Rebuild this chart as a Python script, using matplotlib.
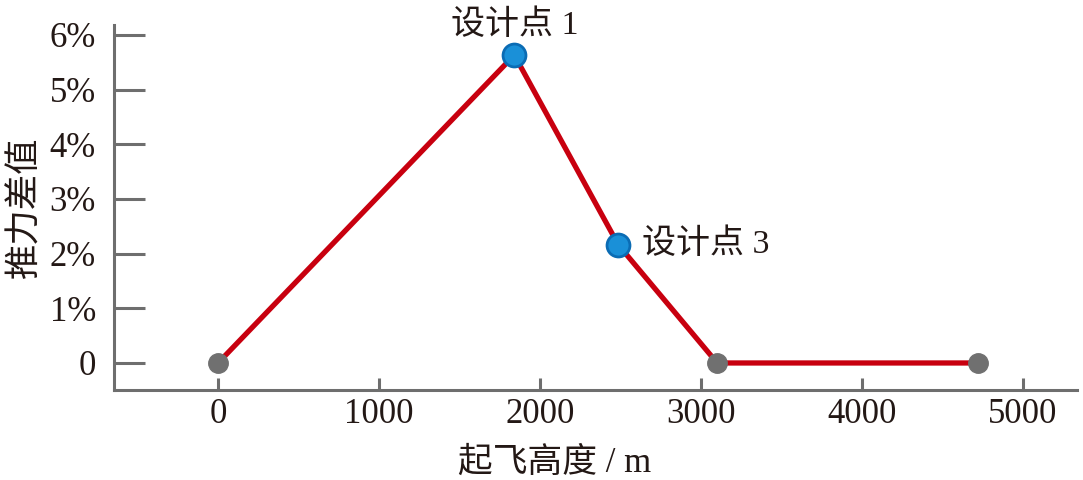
import matplotlib
matplotlib.use("Agg")
import matplotlib.pyplot as plt

plt.rcParams['font.family'] = ['Liberation Serif', 'Noto Sans CJK SC', 'DejaVu Sans']

altitude = [0, 1840, 2486, 3100, 4720]
thrust_diff = [0.0, 5.63, 2.16, 0.0, 0.0]
gray_idx = [0, 3, 4]
design_idx = [1, 2]
design_labels = ["设计点 1", "设计点 3"]
xticks = [0, 1000, 2000, 3000, 4000, 5000]
yticks = [0, 1, 2, 3, 4, 5, 6]
ytick_labels = ["0", "1%", "2%", "3%", "4%", "5%", "6%"]

spine_c = "#6e6e6e"
text_c = "#231815"

fig = plt.figure(figsize=(10.83, 4.8), dpi=100)
ax = fig.add_axes([0.1053, 0.1875, 0.8892, 0.7605])

ax.plot(altitude, thrust_diff, color="#c8000f", lw=3.8, zorder=2, solid_capstyle='butt')
ax.plot([altitude[i] for i in gray_idx], [thrust_diff[i] for i in gray_idx], 'o',
        color="#707070", ms=14, mec="#707070", zorder=3)
ax.plot([altitude[i] for i in design_idx], [thrust_diff[i] for i in design_idx], 'o',
        mfc="#1a90d8", mec="#0b6cb4", mew=2, ms=16.5, zorder=4)

ax.text(altitude[1], 6.18, design_labels[0], ha='center', va='center', fontsize=24.5,
        color=text_c)
ax.text(altitude[2] + 150, thrust_diff[2] + 0.02, design_labels[1], ha='left', va='center',
        fontsize=24.5, color=text_c)

ax.set_xlim(-646, 5335)
ax.set_ylim(-0.494, 6.18)
ax.set_xticks(xticks)
ax.set_xticklabels([str(v) for v in xticks])
ax.set_yticks(yticks)
ax.set_yticklabels(ytick_labels)

for s in ['top', 'right']:
    ax.spines[s].set_visible(False)
for s in ['left', 'bottom']:
    ax.spines[s].set_color(spine_c)
    ax.spines[s].set_linewidth(2.2)

ax.tick_params(axis='y', direction='in', length=22, width=2.2, color=spine_c,
               labelsize=25, labelcolor=text_c, pad=13)
ax.tick_params(axis='x', direction='in', length=8.6, width=2.2, color=spine_c,
               labelsize=25, labelcolor=text_c, pad=6)

ax.set_xlabel("起飞高度 / m", fontsize=25, color=text_c, labelpad=6)
ax.xaxis.set_label_coords(0.457, -0.155)
ax.set_ylabel("推力差值", fontsize=25.5, color=text_c, labelpad=5)

fig.savefig("out.png", dpi=100)
